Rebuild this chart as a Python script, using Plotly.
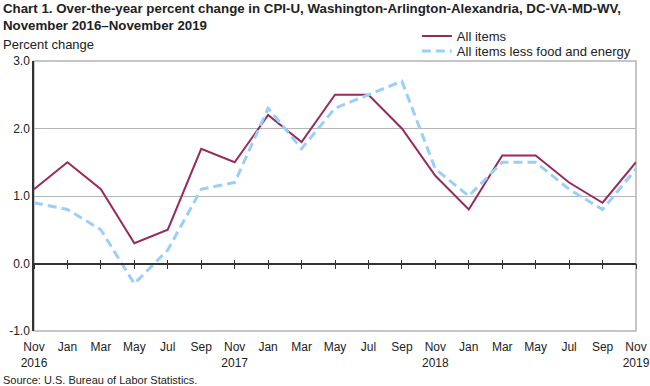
import plotly.graph_objects as go

months = ["Nov", "Jan", "Mar", "May", "Jul", "Sep",
          "Nov", "Jan", "Mar", "May", "Jul", "Sep",
          "Nov", "Jan", "Mar", "May", "Jul", "Sep", "Nov"]
years = {0: "2016", 6: "2017", 12: "2018", 18: "2019"}
all_items = [1.1, 1.5, 1.1, 0.3, 0.5, 1.7, 1.5, 2.2, 1.8, 2.5, 2.5, 2.0,
             1.3, 0.8, 1.6, 1.6, 1.2, 0.9, 1.5]
core = [0.9, 0.8, 0.5, -0.3, 0.2, 1.1, 1.2, 2.3, 1.7, 2.3, 2.5, 2.7,
        1.4, 1.0, 1.5, 1.5, 1.1, 0.8, 1.4]
ytick_vals = [-1, 0, 1, 2, 3]
ytick_text = ["-1.0", "0.0", "1.0", "2.0", "3.0"]

x = list(range(len(months)))
ticktext = [m + ("<br>" + years[i] if i in years else "") for i, m in enumerate(months)]

FONT = "Liberation Sans, Arial, sans-serif"
PW, PH = 602, 270  # plot area size in px

fig = go.Figure()
fig.add_trace(go.Scatter(x=x, y=all_items, mode="lines", name="All items",
                         line=dict(color="#962B5C", width=2), legend="legend"))
fig.add_trace(go.Scatter(x=x, y=core, mode="lines", name="All items less food and energy",
                         line=dict(color="#99CFFA", width=3, dash="9px,5px"), legend="legend2"))

leg_common = dict(xanchor="left", yanchor="middle", bgcolor="rgba(0,0,0,0)",
                  font=dict(size=13, family=FONT, color="#222"), itemwidth=30)

fig.update_layout(
    width=650, height=386,
    margin=dict(l=34, r=14, t=61, b=55, autoexpand=False),
    paper_bgcolor="white", plot_bgcolor="white",
    font=dict(family=FONT, size=12, color="#222"),
    showlegend=True,
    legend=dict(x=0.636, y=1 + (61 - 36) / PH, **leg_common),
    legend2=dict(x=0.636, y=1 + (61 - 51) / PH, **leg_common),
    xaxis=dict(range=[0, 18], tickmode="array", tickvals=x, ticktext=ticktext,
               showgrid=False, zeroline=False, showline=False, ticks="",
               ticklabelstandoff=7,
               tickfont=dict(size=12, color="#222")),
    xaxis2=dict(range=[0, 18], overlaying="x", anchor="free", position=0.25, side="bottom",
                tickmode="array", tickvals=x, showticklabels=False, showgrid=False,
                zeroline=False, showline=True, linecolor="#333", linewidth=1.5,
                ticks="outside", ticklen=5, tickcolor="#333", tickwidth=1),
    xaxis3=dict(range=[0, 18], overlaying="x", anchor="free", position=0.25, side="bottom",
                tickmode="array", tickvals=x, showticklabels=False, showgrid=False,
                zeroline=False, showline=False,
                ticks="inside", ticklen=4, tickcolor="#333", tickwidth=1),
    yaxis=dict(range=[-1, 3], tickmode="array", tickvals=ytick_vals, ticktext=ytick_text,
               showgrid=True, gridcolor="#B4B4B4", gridwidth=1, zeroline=False,
               showline=True, linecolor="#333", linewidth=1.5, ticks="",
               tickfont=dict(size=12, color="#222")),
    shapes=[dict(type="rect", xref="paper", yref="paper", x0=0, x1=1, y0=0, y1=1,
                 line=dict(color="#B4B4B4", width=1.5), layer="below")],
    annotations=[
        dict(text="<b>Chart 1. Over-the-year percent change in CPI-U, Washington-Arlington-Alexandria, DC-VA-MD-WV,<br>November 2016–November 2019</b>",
             xref="paper", yref="paper", x=(1 - 34) / PW, y=1 + (61 + 1) / PH,
             xanchor="left", yanchor="top", align="left", showarrow=False,
             font=dict(size=13.3, family=FONT, color="#222")),
        dict(text="Percent change", xref="paper", yref="paper", x=(1 - 34) / PW, y=1 + (61 - 44) / PH,
             xanchor="left", yanchor="middle", showarrow=False,
             font=dict(size=13, family=FONT, color="#222")),
        dict(text="Source: U.S. Bureau of Labor Statistics.", xref="paper", yref="paper",
             x=(1 - 34) / PW, y=(331 - 380) / PH, xanchor="left", yanchor="middle", showarrow=False,
             font=dict(size=11, family=FONT, color="#222")),
    ],
)
# invisible traces so the overlay axes are drawn
fig.add_trace(go.Scatter(x=[0], y=[None], xaxis="x2", showlegend=False, hoverinfo="skip"))
fig.add_trace(go.Scatter(x=[0], y=[None], xaxis="x3", showlegend=False, hoverinfo="skip"))

fig.write_html("out.html", config={"displayModeBar": False},
               post_script="document.body.style.margin='0';document.body.style.overflow='hidden';")
